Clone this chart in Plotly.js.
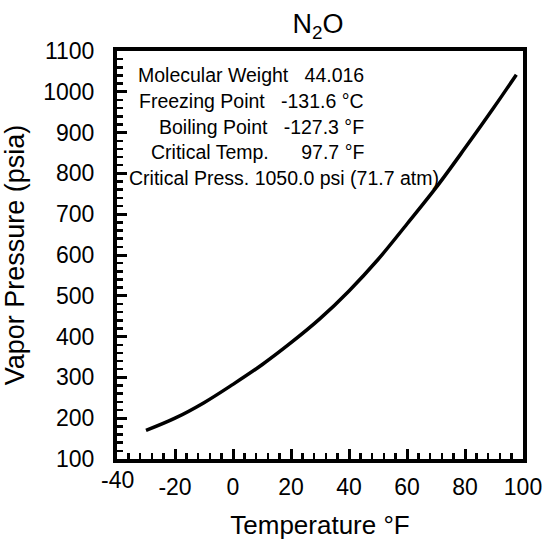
<!DOCTYPE html>
<html>
<head>
<meta charset="utf-8">
<script src="https://cdn.plot.ly/plotly-3.0.1.min.js"></script>
<style>html,body{margin:0;padding:0;background:#fff;}#chart{width:545px;height:540px;}</style>
</head>
<body>
<div id="chart"></div>
<script>
// Data
var temperatureF = [-30, -20, -10, 0, 10, 20, 30, 40, 50, 60, 70, 80, 90, 97.7];
var vaporPressurePsia = [170, 200, 238, 283, 331, 385, 444, 512, 589, 676, 765, 862, 962, 1042];

var xTickVals = [-40, -20, 0, 20, 40, 60, 80, 100];
var xTickText = ['-40', '-20', '0', '20', '40', '60', '80', '100'];
var yTickVals = [100, 200, 300, 400, 500, 600, 700, 800, 900, 1000, 1100];
var yTickText = ['100', '200', '300', '400', '500', '600', '700', '800', '900', '1000', '1100'];

var infoLines = [
  "Molecular Weight&nbsp;&nbsp;&nbsp;44.016",
  "Freezing Point&nbsp;&nbsp;&nbsp;-131.6 °C",
  "Boiling Point&nbsp;&nbsp;&nbsp;-127.3 °F",
  "Critical Temp.&nbsp;&nbsp;&nbsp;&nbsp;&nbsp;&nbsp;97.7 °F"
];
var infoLastLine = "Critical Press. 1050.0 psi (71.7 atm)";

var FONT = "Arial, 'Liberation Sans', sans-serif";
var L = 117, R = 523, T = 51, B = 459;
function px2x(p){ return (p - L) / (R - L); }
function px2y(p){ return (B - p) / (B - T); }

var annotations = [];
var lineY = [75, 101, 127, 152];
for (var i = 0; i < infoLines.length; i++) {
  annotations.push({
    xref: 'paper', yref: 'paper', x: px2x(366), y: px2y(lineY[i]),
    xanchor: 'right', yanchor: 'middle', showarrow: false,
    text: infoLines[i], font: {family: FONT, size: 19.5, color: '#000'}
  });
}
annotations.push({
  xref: 'paper', yref: 'paper', x: px2x(127), y: px2y(178),
  xanchor: 'left', yanchor: 'middle', showarrow: false,
  text: infoLastLine, font: {family: FONT, size: 19.5, color: '#000'}
});
// first x tick label sits slightly higher in the reference
annotations.push({
  xref: 'x', yref: 'paper', x: xTickVals[0], y: px2y(480),
  xanchor: 'center', yanchor: 'middle', showarrow: false,
  text: xTickText[0], font: {family: FONT, size: 23, color: '#000'}
});
var xTickShown = xTickText.map(function(t, k){ return k === 0 ? ' ' : t; });

var trace = {
  x: temperatureF, y: vaporPressurePsia, type: 'scatter', mode: 'lines',
  line: {color: '#000', width: 3.5, shape: 'spline', smoothing: 1},
  hoverinfo: 'skip'
};

var layout = {
  width: 545, height: 540,
  margin: {l: L, r: 545 - R, t: T, b: 540 - B, pad: 0},
  paper_bgcolor: '#fff', plot_bgcolor: '#fff',
  showlegend: false,
  font: {family: FONT, color: '#000'},
  title: {
    text: 'N<sub>2</sub>O', font: {family: FONT, size: 27, color: '#000'},
    x: 318 / 545, xanchor: 'center', xref: 'container',
    y: 1 - 24 / 540, yanchor: 'middle', yref: 'container'
  },
  xaxis: {
    range: [-40, 100], tickmode: 'array', tickvals: xTickVals, ticktext: xTickShown,
    ticks: 'inside', ticklen: 10, tickwidth: 3, tickcolor: '#000',
    minor: {dtick: 4, tick0: -40, ticks: 'inside', ticklen: 6, tickwidth: 2.5, tickcolor: '#000', showgrid: false},
    showline: true, linecolor: '#000', linewidth: 4, mirror: true,
    showgrid: false, zeroline: false,
    tickfont: {family: FONT, size: 23, color: '#000'},
    ticklabelstandoff: 4,
    title: {text: 'Temperature °F', font: {family: FONT, size: 26, color: '#000'}, standoff: 24},
    fixedrange: true
  },
  yaxis: {
    range: [100, 1100], tickmode: 'array', tickvals: yTickVals, ticktext: yTickText,
    ticks: 'inside', ticklen: 10, tickwidth: 3, tickcolor: '#000',
    minor: {dtick: 20, tick0: 100, ticks: 'inside', ticklen: 6, tickwidth: 2.5, tickcolor: '#000', showgrid: false},
    showline: true, linecolor: '#000', linewidth: 4, mirror: true,
    showgrid: false, zeroline: false,
    tickfont: {family: FONT, size: 23, color: '#000'},
    ticklabelstandoff: 14,
    title: {text: 'Vapor Pressure (psia)', font: {family: FONT, size: 27, color: '#000'}, standoff: 12},
    fixedrange: true
  },
  annotations: annotations
};

Plotly.newPlot('chart', [trace], layout, {displayModeBar: false, staticPlot: true});
</script>
</body>
</html>
